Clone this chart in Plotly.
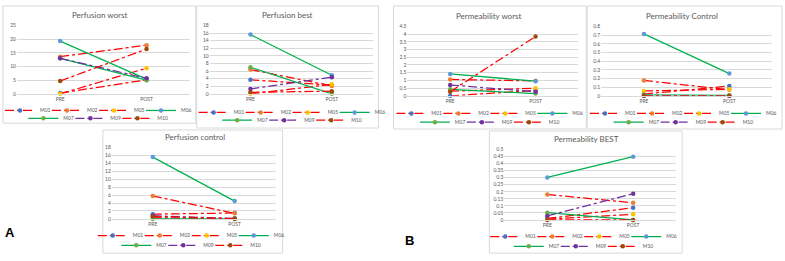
import plotly.graph_objects as go

# ---------------- data ----------------
series = ["M01", "M02", "M05", "M06", "M07", "M09", "M10"]
phases = ["PRE", "POST"]

perfusion_worst_pre = [0.3, 13.6, 0.0, 19.3, 13.0, 13.0, 4.7]
perfusion_worst_post = [5.1, 17.8, 9.4, 5.4, 5.0, 5.7, 16.4]

perfusion_best_pre = [3.7, 6.4, 0.0, 15.6, 7.0, 1.3, 0.4]
perfusion_best_post = [2.3, 2.1, 2.5, 4.9, 0.0, 4.4, 0.7]

perfusion_control_pre = [1.2, 5.8, 0.3, 15.6, 0.0, 0.8, 0.6]
perfusion_control_post = [1.5, 1.4, 0.0, 4.5, 0.0, 0.1, 0.1]

perm_worst_pre = [0.0, 1.06, 0.3, 1.42, 0.42, 0.7, 0.27]
perm_worst_post = [0.35, 0.97, 0.49, 0.95, 0.15, 0.27, 3.85]

perm_control_pre = [0.02, 0.177, 0.056, 0.714, 0.011, 0.0, 0.0]
perm_control_post = [0.113, 0.07, 0.075, 0.256, 0.005, 0.0, 0.0]

perm_best_pre = [0.01, 0.181, 0.005, 0.302, 0.051, 0.028, 0.0]
perm_best_post = [0.086, 0.121, 0.04, 0.449, 0.0, 0.186, 0.0]

# ---------------- styles ----------------
W, H = 785, 261
marker_colors = ["#4472C4", "#ED7D31", "#FFC000", "#5B9BD5", "#70AD47", "#7030A0", "#9E480E"]
line_colors = ["#FF0000", "#FF0000", "#FF0000", "#00B050", "#00B050", "#7030A0", "#FF0000"]
line_dash = ["dashdot", "dashdot", "dashdot", "solid", "solid", "dashdot", "dashdot"]
FONT = "Lato"
GREY = "#595959"
GRID = "#D9D9D9"

legend_rows = [[0, 1, 2, 3], [4, 5, 6]]

panels = [
    dict(title="Perfusion worst", pre=perfusion_worst_pre, post=perfusion_worst_post,
         box=(3, 3, 196, 123), plot=(17, 23, 190, 93), ymax=25, dtick=5,
         title_xy=(100, 12), leg_x=100, row_y=[110, 118]),
    dict(title="Perfusion best", pre=perfusion_best_pre, post=perfusion_best_post,
         box=(197, 3, 379, 128), plot=(210, 23, 373, 93), ymax=18, dtick=2,
         title_xy=(288, 12), leg_x=294, row_y=[112, 120]),
    dict(title="Permeability worst", pre=perm_worst_pre, post=perm_worst_post,
         box=(394, 3, 587, 129), plot=(408, 24, 579, 95), ymax=4.5, dtick=0.5,
         title_xy=(490, 13), leg_x=492, row_y=[113, 122]),
    dict(title="Permeability Control", pre=perm_control_pre, post=perm_control_post,
         box=(588, 3, 783, 129), plot=(602, 24, 773, 95), ymax=0.8, dtick=0.1,
         title_xy=(683, 13), leg_x=686, row_y=[113, 122]),
    dict(title="Perfusion control", pre=perfusion_control_pre, post=perfusion_control_post,
         box=(103, 130, 283, 256), plot=(112, 148, 276, 221), ymax=18, dtick=2,
         title_xy=(195, 137), leg_x=193, row_y=[238, 248]),
    dict(title="Permeability BEST", pre=perm_best_pre, post=perm_best_post,
         box=(490, 131, 683, 256), plot=(505, 150, 677, 222), ymax=0.5, dtick=0.05,
         title_xy=(587, 139), leg_x=586, row_y=[239, 249]),
]


def fx(x):
    return x / W


def fy(y):
    return 1 - y / H


fig = go.Figure()
layout = dict(
    width=W, height=H, margin=dict(l=0, r=0, t=0, b=0),
    paper_bgcolor="white", plot_bgcolor="white",
    font=dict(family=FONT, color=GREY),
    shapes=[], annotations=[],
)

legend_count = 0
for p_i, p in enumerate(panels):
    n = p_i + 1
    xa = "xaxis" if n == 1 else f"xaxis{n}"
    ya = "yaxis" if n == 1 else f"yaxis{n}"
    xref = "x" if n == 1 else f"x{n}"
    yref = "y" if n == 1 else f"y{n}"
    x0, y0, x1, y1 = p["plot"]
    layout[xa] = dict(domain=[fx(x0), fx(x1)], anchor=yref, type="category",
                      range=[-0.5, 1.5], showgrid=False, zeroline=False,
                      showline=True, linecolor=GRID, linewidth=1,
                      tickfont=dict(size=5, color=GREY), ticks="", fixedrange=True)
    layout[ya] = dict(domain=[fy(y1), fy(y0)], anchor=xref, range=[0, p["ymax"]],
                      dtick=p["dtick"], tick0=0, showgrid=True, gridcolor=GRID,
                      gridwidth=0.8, zeroline=False, showline=False,
                      tickfont=dict(size=5, color=GREY), ticks="", fixedrange=True)

    # legends: one per row
    row_legend = {}
    row_last = set()
    for r_i, row in enumerate(legend_rows):
        legend_count += 1
        lid = "legend" if legend_count == 1 else f"legend{legend_count}"
        layout[lid] = dict(x=fx(p["leg_x"]), y=fy(p["row_y"][r_i]), xanchor="center",
                           yanchor="middle", orientation="h", bgcolor="rgba(0,0,0,0)",
                           font=dict(size=5, color=GREY, family=FONT), itemwidth=30,
                           entrywidth=2, entrywidthmode="pixels", tracegroupgap=0)
        for s in row:
            row_legend[s] = lid
        row_last.add(row[-1])

    for s_i, name in enumerate(series):
        fig.add_trace(go.Scatter(
            x=phases, y=[p["pre"][s_i], p["post"][s_i]], name=name,
            mode="lines+markers", xaxis=xref, yaxis=yref,
            line=dict(color=line_colors[s_i], dash=line_dash[s_i], width=1.25),
            marker=dict(color=marker_colors[s_i], size=4.5, symbol="circle"),
            cliponaxis=False, legend=row_legend[s_i], showlegend=True,
            legendwidth=14 if s_i in row_last else 2,
        ))

    bx0, by0, bx1, by1 = p["box"]
    layout["shapes"].append(dict(type="rect", xref="paper", yref="paper",
                                 x0=fx(bx0), x1=fx(bx1), y0=fy(by1), y1=fy(by0),
                                 line=dict(color=GRID, width=1), layer="below"))
    tx, ty = p["title_xy"]
    layout["annotations"].append(dict(text=p["title"], x=fx(tx), y=fy(ty), xref="paper",
                                      yref="paper", showarrow=False, xanchor="center",
                                      yanchor="middle",
                                      font=dict(size=8, color=GREY, family=FONT)))

layout["annotations"].append(dict(text="<b>A</b>", x=fx(10), y=fy(235), xref="paper", yref="paper",
                                  showarrow=False, xanchor="center", yanchor="middle",
                                  font=dict(size=13, color="black", family="Liberation Sans")))
layout["annotations"].append(dict(text="<b>B</b>", x=fx(410), y=fy(243), xref="paper", yref="paper",
                                  showarrow=False, xanchor="center", yanchor="middle",
                                  font=dict(size=13, color="black", family="Liberation Sans")))

fig.update_layout(**layout)
fig.write_html("out.html")
